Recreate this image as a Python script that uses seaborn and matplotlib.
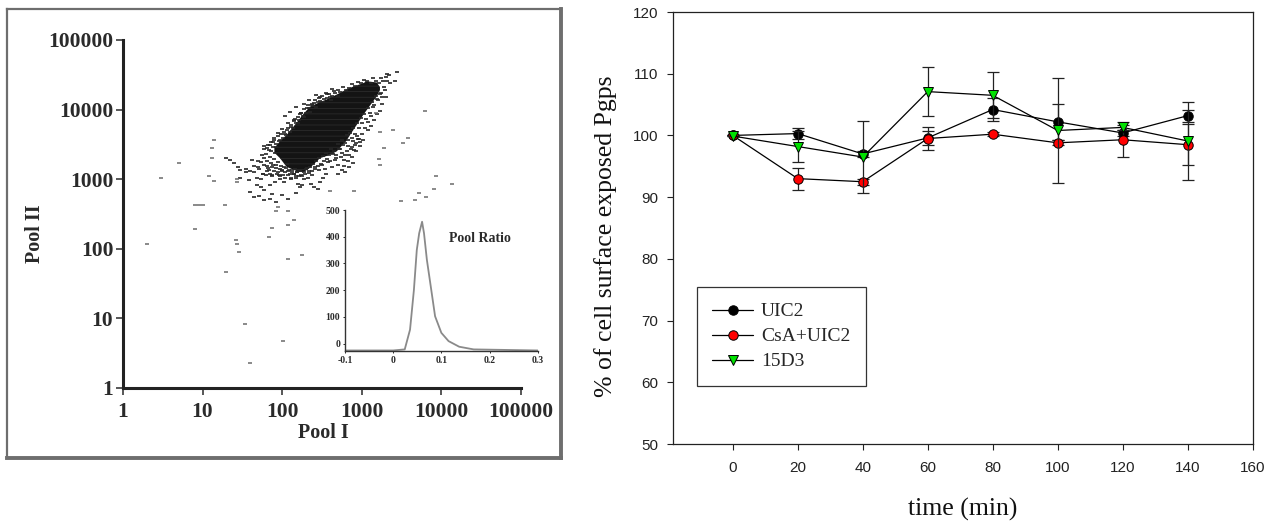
import matplotlib
matplotlib.use('Agg')
import matplotlib.pyplot as plt
import seaborn as sns

# right panel
time_min = [0, 20, 40, 60, 80, 100, 120, 140]
uic2 = [100, 100.3, 97, 99.6, 104.2, 102.2, 100.4, 103.2]
uic2_err = [0, 0.9, 0.5, 1.1, 1.8, 2.9, 0.5, 1.0]
csa_uic2 = [100, 93, 92.5, 99.5, 100.2, 98.8, 99.3, 98.5]
csa_err = [0, 1.8, 0.5, 1.9, 0.3, 0.4, 2.8, 3.3]
d15 = [99.9, 98.2, 96.5, 107.1, 106.5, 100.8, 101.3, 99.1]
d15_err = [0, 2.5, 5.8, 4.0, 3.7, 8.5, 0.4, 6.3]

# left panel: band of the solid part of the cloud
cloud_x = [80, 94, 114, 153, 185, 224, 300, 364, 486, 649, 714, 1050, 1158, 1549, 1700]
cloud_low = [2400, 2000, 1500, 1300, 1250, 1450, 2000, 2150, 2500, 3600, 4300, 8400, 9800, 15500, 19000]
cloud_high = [2800, 3500, 4300, 6500, 8600, 11000, 12800, 14000, 16400, 19500, 20500, 24000, 25500, 24500, 21000]

# speckle round the edge of the cloud
halo_x = [20, 22, 25, 28, 30, 35, 40, 45, 50, 55, 60, 48, 55, 62, 70, 80, 42, 35, 30, 38,
          48, 55, 60, 70, 82, 95, 110, 120, 105, 130, 140, 150, 160, 180, 190, 210, 230, 250, 280, 300,
          330, 360, 52, 60, 40, 45, 75, 85, 100, 120, 150, 70, 170, 60, 65, 70, 72, 75, 80, 85,
          90, 95, 100, 105, 110, 62, 68, 78, 82, 70, 50, 56, 64, 58, 66, 74, 88, 92, 98, 115,
          125, 135, 145, 155, 165, 175, 200, 220, 240, 260, 290, 320, 350, 380, 420, 460, 500, 550, 600, 650,
          700, 750, 800, 850, 900, 950, 1000, 1100, 1200, 1300, 400, 440, 480, 520, 560, 610, 670, 730, 780, 830,
          880, 930, 600, 680, 760, 850, 950, 1050, 500, 560, 620, 700, 780, 1200, 1300, 1450, 1550, 1700,
          1800, 2000, 2300, 1400, 1550, 1750, 1900, 2100, 2600, 2200, 2800,
          80, 90, 100, 110, 120, 130, 145, 160, 175, 190, 205, 225, 250, 270, 300, 330, 370, 410, 450, 500,
          110, 125, 140, 150, 170, 190, 215, 240, 265, 295, 320, 360, 395, 430, 85, 95, 72, 65, 115, 60]
halo_y = [2000, 1900, 1700, 1500, 1350, 1400, 1300, 1250, 1500, 1750, 2000, 1050, 1000, 1150, 1200, 1300, 1900, 1250, 1050, 960,
          820, 780, 700, 820, 900, 1100, 1050, 1300, 900, 1000, 1200, 1100, 850, 820, 1000, 1050, 850, 780, 720, 900,
          1050, 1200, 580, 500, 650, 560, 620, 470, 590, 520, 640, 510, 770, 1600, 1800, 2100, 1700, 1500, 1950, 1600,
          1750, 1400, 1350, 1500, 1250, 2300, 2600, 2900, 2400, 3100, 1800, 2200, 1300, 1200, 1450, 1100, 1250, 1150, 1550, 1650,
          1200, 1350, 1400, 1250, 1300, 1150, 1400, 1300, 1150, 1500, 1350, 1600, 1400, 1750, 1500, 1900, 1600, 2100, 1900, 2500,
          2200, 2900, 2600, 3300, 3800, 3400, 4400, 5400, 6600, 8000, 1800, 2300, 2000, 2700, 2400, 2200, 3000, 2700, 3500, 3100,
          4200, 3800, 1550, 1800, 2100, 2500, 3000, 3600, 1200, 1350, 1250, 1500, 1700, 5000, 5800, 7000, 8500, 9500,
          12000, 15000, 24000, 11000, 14000, 17500, 21000, 26000, 25500, 31000, 35000,
          3900, 4600, 5300, 4400, 6400, 5600, 7400, 6500, 9000, 7800, 10500, 9300, 12500, 10800, 15000, 12800, 16500, 13500, 18500, 15500,
          8000, 9200, 6900, 11000, 8600, 12000, 13500, 11500, 16000, 14800, 13000, 17500, 15200, 19500, 3200, 3700, 3400, 2800, 5000, 3000]

# points hugging the upper side of the solid part
upper_x = [60, 66, 72, 76, 80, 84, 88, 92, 97, 102, 107, 113, 118, 124, 130, 137, 143, 150, 158, 165,
           172, 181, 190, 198, 210, 220, 235, 248, 262, 280, 300, 315, 340, 365, 390, 425, 460, 500, 540, 590,
           640, 700, 760, 830, 900, 990, 1080, 1180, 1300, 1400, 1500, 1650, 1750, 1850, 2100, 2000]
upper_y = [2700, 3100, 2500, 3400, 3700, 2900, 4100, 3500, 4400, 3900, 4800, 4300, 5400, 4800, 6000, 5400, 7000, 6300, 7800, 7000,
           8800, 8000, 10200, 9000, 11500, 10500, 12000, 11200, 13700, 12800, 13200, 15500, 14000, 14800, 17000, 15600, 17500, 19000, 17800, 21000,
           19000, 20500, 23500, 22000, 25000, 24000, 27000, 25500, 24000, 28000, 26000, 24000, 28500, 25500, 32000, 29000]

# points hugging the lower side of the solid part
lower_x = [45, 52, 58, 64, 68, 74, 78, 83, 87, 93, 99, 104, 112, 117, 122, 128, 134, 142, 148, 156,
           163, 170, 178, 186, 195, 205, 215, 225, 236, 246, 258, 270, 282, 295, 310, 325, 340, 355, 372, 390,
           410, 430, 455, 480, 505, 530, 560, 590, 620, 650, 680, 715, 750, 790, 830, 870, 920, 970, 1020, 1080,
           1140, 1200, 1280, 1350, 1420, 1500, 1600, 1700, 1800, 1950]
lower_y = [1550, 1400, 1200, 1550, 1350, 1150, 1600, 1450, 1200, 1000, 1300, 1150, 1420, 1150, 1350, 1050, 1250, 1200, 1050, 1250,
           1100, 1300, 1120, 1260, 1180, 1420, 1240, 1500, 1300, 1650, 1400, 1800, 1550, 2000, 1650, 2150, 1800, 2400, 1950, 2250,
           2700, 2350, 2500, 2250, 3200, 2750, 3600, 3050, 3300, 4300, 3700, 4600, 3900, 5500, 4500, 6500, 5500, 7500, 6300, 8700,
           7400, 10500, 9000, 13000, 11500, 15500, 13500, 17000, 15000, 19000]

# isolated points away from the cloud
lone_x = [2, 3, 5, 8, 8, 9, 10, 19, 12, 14, 14, 13, 13, 20, 26, 27, 29, 34, 40, 104,
          68, 75, 120, 118, 180, 140, 85, 88, 120, 27, 27, 400, 800, 3100, 4700, 5300, 6500, 8200, 8700, 13500,
          6300, 2500, 3300, 3800, 1900, 1700, 1700, 1650, 1500]
lone_y = [115, 1050, 1700, 190, 430, 430, 430, 420, 1100, 930, 3600, 2800, 2000, 46, 135, 115, 90, 8.3, 2.3, 4.7,
          145, 200, 220, 70, 80, 260, 350, 400, 350, 1000, 900, 680, 680, 480, 500, 640, 560, 720, 1100, 850,
          9500, 5000, 3300, 3900, 2800, 4700, 1600, 1950, 9000]

# inset histogram of the ratio
ratio_x = [-0.1, 0.0, 0.024, 0.035, 0.043, 0.049, 0.054, 0.06, 0.064, 0.07, 0.078, 0.087, 0.1, 0.115, 0.137, 0.167, 0.3]
ratio_y = [-26, -26, -22, 52, 200, 350, 413, 456, 413, 313, 214, 102, 40, 9, -12, -22, -26]

W, H = 1282, 522


def px_box(left, top, right, bottom):
    # figure fractions from pixel edges
    return [left / W, 1 - bottom / H, (right - left) / W, (bottom - top) / H]


sns.set_theme(style='ticks')
plt.rcParams['font.family'] = ['Liberation Serif', 'DejaVu Sans']
plt.rcParams['hatch.linewidth'] = 0.5
fig = plt.figure(figsize=(W / 100, H / 100), dpi=100, facecolor='white')

# grey frame of the left picture
frame = fig.add_axes(px_box(7, 9, 561, 458))
frame.set_xticks([])
frame.set_yticks([])
for s in frame.spines.values():
    s.set_color('#6e6e6e')
    s.set_linewidth(1.6)
frame.spines['right'].set_linewidth(2.8)
frame.spines['bottom'].set_linewidth(2.8)

ax1 = fig.add_axes(px_box(123, 40, 520.7, 387.7), facecolor='none')
ax1.set_xscale('log')
ax1.set_yscale('log')
ax1.fill_between(cloud_x, cloud_low, cloud_high, facecolor='#141414', edgecolor='#303030', hatch='---', linewidth=0)
sns.scatterplot(x=halo_x, y=halo_y, marker='_', s=12, linewidth=1.2, color='#262626', ax=ax1)
sns.scatterplot(x=upper_x, y=upper_y, marker='_', s=12, linewidth=1.2, color='#262626', ax=ax1)
sns.scatterplot(x=lower_x, y=lower_y, marker='_', s=12, linewidth=1.2, color='#262626', ax=ax1)
sns.scatterplot(x=lone_x, y=lone_y, marker='_', s=10, linewidth=1.1, color='#6a6a6a', ax=ax1)
ax1.set_xlim(1, 100000)
ax1.set_ylim(1, 100000)
decades = [1, 10, 100, 1000, 10000, 100000]
ax1.set_xticks(decades, [str(d) for d in decades])
ax1.set_yticks(decades, [str(d) for d in decades])
ax1.minorticks_off()
ax1.tick_params(axis='both', which='major', labelsize=15.5, length=5, width=1.1, pad=2, colors='#2a2a2a')
ax1.tick_params(axis='x', pad=5)
for lab in ax1.get_xticklabels() + ax1.get_yticklabels():
    lab.set_fontweight('bold')
ax1.spines['top'].set_visible(False)
ax1.spines['right'].set_visible(False)
for side in ['left', 'bottom']:
    ax1.spines[side].set_linewidth(2.2)
    ax1.spines[side].set_color('#222222')
ax1.set_xlabel('Pool I', fontsize=14.5, fontweight='bold', color='#2a2a2a', va='center')
ax1.set_ylabel('Pool II', fontsize=14.5, fontweight='bold', color='#2a2a2a', va='center')
ax1.xaxis.set_label_coords((323 - 123) / 397.7, (387.7 - 433) / 347.7)
ax1.yaxis.set_label_coords((35 - 123) / 397.7, (387.7 - 234) / 347.7)

# inset
ins = fig.add_axes(px_box(345, 210, 537.7, 351), facecolor='none')
sns.lineplot(x=ratio_x, y=ratio_y, color='#8a8a8a', lw=1.3, errorbar=None, ax=ins)
ins.set_xlim(-0.1, 0.3)
ins.set_ylim(-28, 500)
ins.set_xticks([-0.1, 0, 0.1, 0.2, 0.3], ['-0.1', '0', '0.1', '0.2', '0.3'])
ins.set_yticks([0, 100, 200, 300, 400, 500])
ins.tick_params(axis='both', labelsize=7, length=1.5, width=0.7, pad=2, colors='#2a2a2a')
for lab in ins.get_xticklabels() + ins.get_yticklabels():
    lab.set_fontweight('bold')
ins.spines['top'].set_visible(False)
ins.spines['right'].set_visible(False)
for side in ['left', 'bottom']:
    ins.spines[side].set_linewidth(1.0)
    ins.spines[side].set_color('#333333')
ins.text(0.18, 395, 'Pool Ratio', fontsize=10, fontweight='bold', color='#2a2a2a', ha='center', va='center')

# right panel
ax2 = fig.add_axes(px_box(673.3, 12, 1252.7, 444), facecolor='white')
series = [
    ('UIC2', uic2, uic2_err, 'o', 'black'),
    ('CsA+UIC2', csa_uic2, csa_err, 'o', '#ff0000'),
    ('15D3', d15, d15_err, 'v', '#00e000'),
]
for name, vals, errs, mk, col in series:
    ax2.errorbar(time_min, vals, yerr=errs, fmt='none', ecolor='#222222', elinewidth=0.9,
                 capsize=4.3, capthick=0.9)
    sns.lineplot(x=time_min, y=vals, color='black', lw=0.9, marker=mk, markersize=6.8,
                 markerfacecolor=col, markeredgecolor='black', markeredgewidth=0.7,
                 errorbar=None, label=name, ax=ax2)
ax2.set_xlim(-18.3, 160)
ax2.set_ylim(50, 120)
ax2.set_xticks(range(0, 161, 20))
ax2.set_yticks(range(50, 121, 10))
ax2.tick_params(axis='both', labelsize=11, length=4, width=0.8, colors='#222222')
ax2.tick_params(axis='y', pad=7)
ax2.tick_params(axis='x', pad=8)
for lab in ax2.get_xticklabels() + ax2.get_yticklabels():
    lab.set_fontfamily('Liberation Sans')
for s in ax2.spines.values():
    s.set_linewidth(0.9)
    s.set_color('#222222')
ax2.set_xlabel('time (min)', fontsize=18.5, color='#111111', va='center')
ax2.set_ylabel('% of cell surface exposed Pgps', fontsize=18.5, color='#111111', va='center')
ax2.xaxis.set_label_coords(0.5, (444 - 509) / 432)
ax2.yaxis.set_label_coords((606 - 673.3) / 579.4, (444 - 236) / 432)
leg = ax2.legend(loc='lower left', bbox_to_anchor=((696.7 - 673.3) / 579.4, (444 - 386) / 432),
                 borderaxespad=0, fontsize=14, frameon=True, fancybox=False, framealpha=1,
                 edgecolor='#333333', handlelength=2.1, labelspacing=0.38, borderpad=0.8,
                 handletextpad=0.4)
leg.get_frame().set_linewidth(0.9)

fig.savefig('out.png', dpi=100)
